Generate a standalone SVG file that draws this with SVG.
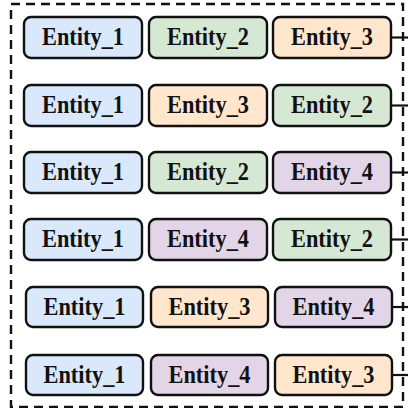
<svg xmlns="http://www.w3.org/2000/svg" width="408" height="408" viewBox="0 0 408 408">
<style>
.b{stroke:#111;stroke-width:2.4;}
.e1{fill:#dae8fc}.e2{fill:#d5e8d4}.e3{fill:#ffe6cc}.e4{fill:#e1d5e7}
text{font-family:"Liberation Serif","Times New Roman",serif;font-weight:bold;font-size:25px;fill:#111;text-anchor:middle}
.c{stroke:#111;stroke-width:2.2;fill:none}
</style>
<rect x="11" y="4" width="392" height="403" fill="none" stroke="#111" stroke-width="2.4" stroke-dasharray="9,6"/>
<g id="connectors">
<line class="c" x1="391" y1="37.5" x2="408" y2="37.5"/>
<line class="c" x1="391" y1="105.5" x2="408" y2="105.5"/>
<line class="c" x1="391" y1="172.5" x2="408" y2="172.5"/>
<line class="c" x1="391" y1="239.5" x2="408" y2="239.5"/>
<line class="c" x1="392" y1="307" x2="408" y2="307"/>
<line class="c" x1="392" y1="375" x2="408" y2="375"/>
</g>
<g id="r1n1"><rect class="b e1" x="24" y="17" width="118" height="41" rx="7"/><text x="83" y="45" textLength="82" lengthAdjust="spacingAndGlyphs">Entity_1</text></g>
<g id="r1n2"><rect class="b e2" x="149" y="17" width="118" height="41" rx="7"/><text x="208" y="45" textLength="82" lengthAdjust="spacingAndGlyphs">Entity_2</text></g>
<g id="r1n3"><rect class="b e3" x="273" y="17" width="118" height="41" rx="7"/><text x="332" y="45" textLength="82" lengthAdjust="spacingAndGlyphs">Entity_3</text></g>

<g id="r2n1"><rect class="b e1" x="24" y="85" width="118" height="41" rx="7"/><text x="83" y="113" textLength="82" lengthAdjust="spacingAndGlyphs">Entity_1</text></g>
<g id="r2n2"><rect class="b e3" x="149" y="85" width="118" height="41" rx="7"/><text x="208" y="113" textLength="82" lengthAdjust="spacingAndGlyphs">Entity_3</text></g>
<g id="r2n3"><rect class="b e2" x="273" y="85" width="118" height="41" rx="7"/><text x="332" y="113" textLength="82" lengthAdjust="spacingAndGlyphs">Entity_2</text></g>

<g id="r3n1"><rect class="b e1" x="24" y="152" width="118" height="41" rx="7"/><text x="83" y="180" textLength="82" lengthAdjust="spacingAndGlyphs">Entity_1</text></g>
<g id="r3n2"><rect class="b e2" x="149" y="152" width="118" height="41" rx="7"/><text x="208" y="180" textLength="82" lengthAdjust="spacingAndGlyphs">Entity_2</text></g>
<g id="r3n3"><rect class="b e4" x="273" y="152" width="118" height="41" rx="7"/><text x="332" y="180" textLength="82" lengthAdjust="spacingAndGlyphs">Entity_4</text></g>

<g id="r4n1"><rect class="b e1" x="24" y="219" width="118" height="41" rx="7"/><text x="83" y="247" textLength="82" lengthAdjust="spacingAndGlyphs">Entity_1</text></g>
<g id="r4n2"><rect class="b e4" x="149" y="219" width="118" height="41" rx="7"/><text x="208" y="247" textLength="82" lengthAdjust="spacingAndGlyphs">Entity_4</text></g>
<g id="r4n3"><rect class="b e2" x="273" y="219" width="118" height="41" rx="7"/><text x="332" y="247" textLength="82" lengthAdjust="spacingAndGlyphs">Entity_2</text></g>

<g id="r5n1"><rect class="b e1" x="26" y="287" width="117" height="40" rx="7"/><text x="84.5" y="314.5" textLength="82" lengthAdjust="spacingAndGlyphs">Entity_1</text></g>
<g id="r5n2"><rect class="b e3" x="151" y="287" width="117" height="40" rx="7"/><text x="209.5" y="314.5" textLength="82" lengthAdjust="spacingAndGlyphs">Entity_3</text></g>
<g id="r5n3"><rect class="b e4" x="275" y="287" width="117" height="40" rx="7"/><text x="333.5" y="314.5" textLength="82" lengthAdjust="spacingAndGlyphs">Entity_4</text></g>

<g id="r6n1"><rect class="b e1" x="26" y="355" width="117" height="40" rx="7"/><text x="84.5" y="382.5" textLength="82" lengthAdjust="spacingAndGlyphs">Entity_1</text></g>
<g id="r6n2"><rect class="b e4" x="151" y="355" width="117" height="40" rx="7"/><text x="209.5" y="382.5" textLength="82" lengthAdjust="spacingAndGlyphs">Entity_4</text></g>
<g id="r6n3"><rect class="b e3" x="275" y="355" width="117" height="40" rx="7"/><text x="333.5" y="382.5" textLength="82" lengthAdjust="spacingAndGlyphs">Entity_3</text></g>
</svg>
